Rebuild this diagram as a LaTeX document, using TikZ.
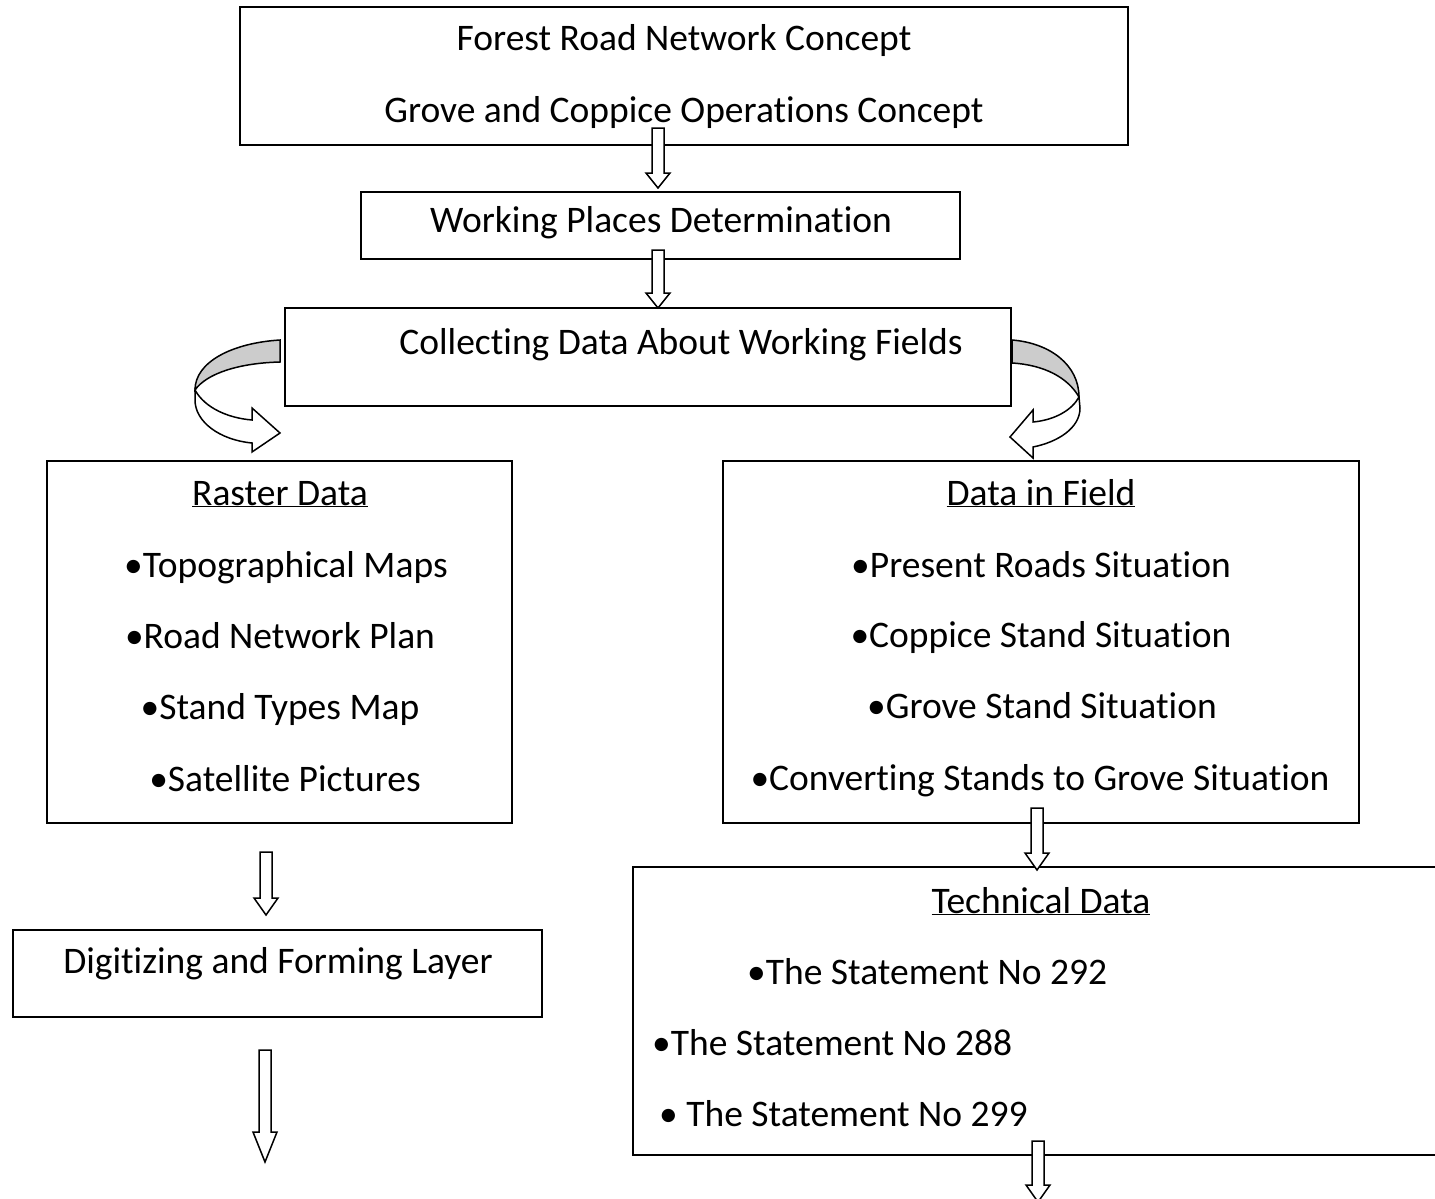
\documentclass[tikz,border=0pt]{standalone}
\usepackage{fontspec}
\setmainfont[Ligatures={NoCommon}]{Carlito}
\definecolor{bandgray}{RGB}{204,204,204}
\tikzset{
  box/.style={draw=black, line width=2pt, fill=white, inner sep=0pt},
  txt/.style={anchor=base, inner sep=0pt, font=\fontsize{37.5}{40}\selectfont},
  ltxt/.style={anchor=base west, inner sep=0pt, font=\fontsize{37.5}{40}\selectfont},
  barrow/.style={draw=black, line width=1.5pt, fill=white, line join=miter},
  band/.style={draw=black, line width=1.5pt, line join=miter},
}
\newcommand{\blockarrow}[4]{% x, top, head start, tip
  \path[barrow] (#1-6,#2) -- (#1+6,#2) -- (#1+6,#3) -- (#1+12,#3) -- (#1,#4)
     -- (#1-12,#3) -- (#1-6,#3) -- cycle;}
\begin{document}
\begin{tikzpicture}[x=1pt,y=-1pt]
\useasboundingbox (0,0) rectangle (1435,1199);
\clip (0,0) rectangle (1435,1199);
\fill[white] (0,0) rectangle (1435,1199);

% boxes
\node[box, minimum width=888pt, minimum height=138pt] (top) at (684,76) {};
\node[box, minimum width=599pt, minimum height=67pt] (work) at (660.5,225.5) {};
\node[box, minimum width=726pt, minimum height=98pt] (coll) at (648,357) {};
\node[box, minimum width=465pt, minimum height=362pt] (raster) at (279.5,642) {};
\node[box, minimum width=636pt, minimum height=362pt] (field) at (1041,642) {};
\node[box, minimum width=529pt, minimum height=87pt] (digit) at (277.5,973.5) {};
\node[box, minimum width=827pt, minimum height=288pt] (tech) at (1046.5,1011) {};

% texts
\node[txt] (t1) at (684,51) {Forest Road Network Concept};
\node[txt] (t2) at (684,122) {Grove and Coppice Operations Concept};
\node[txt] (w1) at (661,232) {Working Places Determination};
\node[txt] (c1) at (681,354) {Collecting Data About Working Fields};

\node[txt] (r0) at (280,505) {\underline{Raster Data}};
\node[txt] (r1) at (286,577) {•Topographical Maps};
\node[txt] (r2) at (280,648) {•Road Network Plan};
\node[txt] (r3) at (280,719) {•Stand Types Map};
\node[txt] (r4) at (285,791) {•Satellite Pictures};

\node[txt] (f0) at (1041,505) {\underline{Data in Field}};
\node[txt] (f1) at (1041,577) {•Present Roads Situation};
\node[txt] (f2) at (1041,647) {•Coppice Stand Situation};
\node[txt] (f3) at (1042,718) {•Grove Stand Situation};
\node[txt] (f4) at (1040,790) {•Converting Stands to Grove Situation};

\node[txt] (d1) at (278,973) {Digitizing and Forming Layer};

\node[txt] (h0) at (1041,913) {\underline{Technical Data}};
\node[ltxt] (h1) at (747,984) {•The Statement No 292};
\node[ltxt] (h2) at (652,1055) {•The Statement No 288};
\node[ltxt] (h3) at (659,1126) {• The Statement No 299};

% straight block arrows
\blockarrow{658}{128}{173}{188}
\blockarrow{658}{250}{293}{308}
\blockarrow{266}{852}{898}{915}
\blockarrow{265}{1050}{1132}{1162}
\blockarrow{1037}{808}{853}{870}
\blockarrow{1038}{1141}{1185}{1202}

% left curved arrow
\path[band, fill=bandgray] (280,340) .. controls (232,343) and (195,362) .. (195,390)
   .. controls (207,373) and (240,363) .. (280,362) -- cycle;
\path[band, fill=white] (195,390) .. controls (205,408) and (228,418) .. (252,420)
   -- (252,408) -- (280,433) -- (252,452) -- (252,443)
   .. controls (220,440) and (195,422) .. (195,400) -- cycle;

% right curved arrow
\path[band, fill=bandgray] (1012,340) .. controls (1050,343) and (1079,365) .. (1079,397)
   .. controls (1068,378) and (1045,365) .. (1012,363) -- cycle;
\path[band, fill=white] (1079,397) .. controls (1072,410) and (1055,420) .. (1033,422)
   -- (1033,410) -- (1010,437) -- (1033,458) -- (1033,447)
   .. controls (1058,442) and (1080,428) .. (1080,408) -- cycle;
\end{tikzpicture}
\end{document}
